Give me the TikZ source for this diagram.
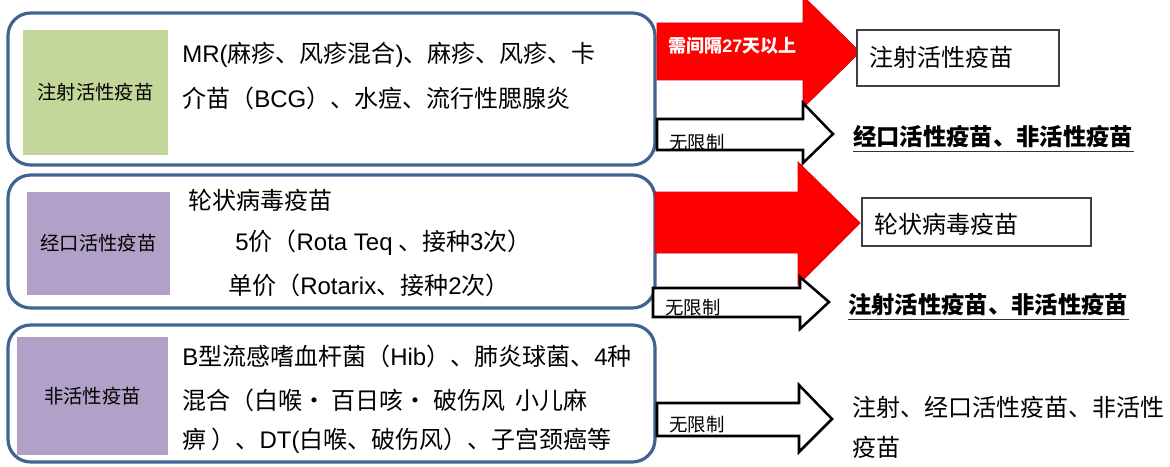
\documentclass[tikz,border=0pt]{standalone}
\usepackage{fontspec}
\setmainfont{Noto Sans CJK SC}
\newfontfamily\lat{Liberation Sans}
\begin{document}
\begin{tikzpicture}[x=0.75pt,y=-0.75pt,
  outerbox/.style={draw=frameblue,line width=2.4pt,rounded corners=17pt,fill=white},
  catbox/.style={inner sep=0pt,font=\fontsize{14.5pt}{17pt}\selectfont},
  bodytext/.style={anchor=west,inner sep=0pt,font=\fontsize{18pt}{21pt}\selectfont},
  redarrow/.style={fill=arrowred,draw=arrowred!85!black,line width=0.6pt},
  openarrow/.style={fill=white,draw=black,line width=1.9pt,line join=miter},
  smalllabel/.style={anchor=west,inner sep=0pt,font=\fontsize{13.8pt}{16pt}\selectfont},
  resultbox/.style={draw=black!75,line width=0.8pt,fill=white},
  resulttext/.style={anchor=west,inner sep=0pt,font=\fontsize{18pt}{21pt}\selectfont},
  uline/.style={line width=1pt,draw=black!80}
]
\definecolor{frameblue}{RGB}{64,99,145}
\definecolor{catgreen}{RGB}{196,215,155}
\definecolor{catpurple}{RGB}{177,160,199}
\definecolor{arrowred}{RGB}{255,0,0}
\useasboundingbox (0,0) rectangle (1170,467);
\clip (0,0) rectangle (1170,467);

% left boxes
\draw[outerbox] (8,13) rectangle (655,165);
\draw[outerbox] (8,175) rectangle (655,308);
\draw[outerbox] (8,325) rectangle (655,462);

\fill[catgreen] (23,30) rectangle (168,155);
\node[catbox] (c1) at (95.5,92) {注射活性疫苗};
\fill[catpurple] (27,192) rectangle (170,295);
\node[catbox] (c2) at (98.5,243) {经口活性疫苗};
\fill[catpurple] (17,337) rectangle (168,455);
\node[catbox] (c3) at (92.5,396) {非活性疫苗};

\node[bodytext] (t11) at (182,55) {{\lat MR(}麻疹、风疹混合{\lat )}、麻疹、风疹、卡};
\node[bodytext] (t12) at (182,98) {介苗（{\lat BCG}）、水痘、流行性腮腺炎};

\node[bodytext] (t21) at (188,200) {轮状病毒疫苗};
\node[bodytext] (t22) at (235,243) {{\lat 5}价（{\lat Rota Teq} 、接种{\lat 3}次）};
\node[bodytext] (t23) at (228,285) {单价（{\lat Rotarix}、接种{\lat 2}次）};

\node[bodytext] (t31) at (182,356) {{\lat B}型流感嗜血杆菌（{\lat Hib}）、肺炎球菌、{\lat 4}种};
\node[bodytext] (t32) at (182,400) {混合（白喉· 百日咳· 破伤风\ \ 小儿麻};
\node[bodytext] (t33) at (182,441) {痹\ ）、{\lat DT(}白喉、破伤风）、子宫颈癌等};

% red arrows
\draw[redarrow] (657,23) -- (803,23) -- (803,-4) -- (860,52) -- (803,108) -- (803,80) -- (657,80) -- cycle;
\draw[redarrow] (655,192) -- (798,192) -- (798,162) -- (860,223) -- (798,285) -- (798,253) -- (655,253) -- cycle;
\node[anchor=west,inner sep=0pt,text=white,font=\fontsize{13.5pt}{16pt}\selectfont\bfseries] (r1) at (668,46) {需间隔{\lat 27}天以上};

% open arrows
\draw[openarrow] (657,119) -- (803,119) -- (803,103) -- (833,134) -- (803,163) -- (803,150) -- (657,150) -- cycle;
\draw[openarrow] (653,288) -- (800,288) -- (800,277) -- (829,302) -- (800,329) -- (800,317) -- (653,317) -- cycle;
\draw[openarrow] (657,403) -- (799,403) -- (799,385) -- (832,419) -- (799,452) -- (799,436) -- (657,436) -- cycle;
\node[smalllabel] (n1) at (669,143) {无限制};
\node[smalllabel] (n2) at (665,308) {无限制};
\node[smalllabel] (n3) at (669,425) {无限制};

% results
\draw[resultbox] (857,30) rectangle (1059,86);
\node[resulttext] (res1) at (869,57) {注射活性疫苗};
\node[resulttext,font=\fontsize{17.5pt}{21pt}\selectfont\bfseries] (res2) at (853,137) {经口活性疫苗、非活性疫苗};
\draw[uline] ([yshift=-2pt]res2.south west) -- ([yshift=-2pt]res2.south east);

\draw[resultbox] (862,198) rectangle (1091,246);
\node[resulttext] (res3) at (874,224) {轮状病毒疫苗};
\node[resulttext,font=\fontsize{17.5pt}{21pt}\selectfont\bfseries] (res4) at (848,305) {注射活性疫苗、非活性疫苗};
\draw[uline] ([yshift=-2pt]res4.south west) -- ([yshift=-2pt]res4.south east);

\node[resulttext] (res5) at (852,407) {注射、经口活性疫苗、非活性};
\node[resulttext] (res6) at (852,447) {疫苗};
\end{tikzpicture}
\end{document}
